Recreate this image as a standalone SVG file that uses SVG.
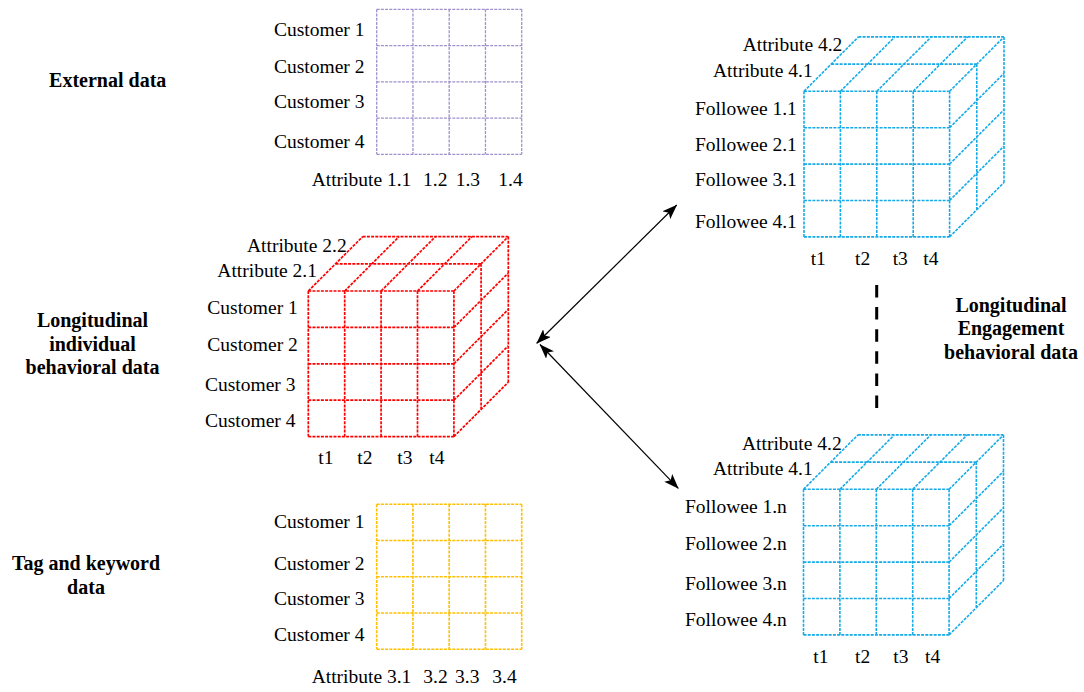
<svg xmlns="http://www.w3.org/2000/svg" xmlns:xlink="http://www.w3.org/1999/xlink" width="1084" height="692" viewBox="0 0 1084 692">
  <style>
    text { font-family: "Liberation Serif", "Times New Roman", serif; fill: #000; }
    .lbl { font-size: 19.5px; }
    .ttl { font-size: 20px; font-weight: bold; text-anchor: middle; }
    .end { text-anchor: end; }
    .grid { fill: none; stroke-dasharray: 3 1.2; stroke-linecap: butt; }
    .purple { stroke: #a091cc; stroke-width: 1.3; }
    .red { stroke: #ff0000; stroke-width: 1.7; }
    .yellow { stroke: #ffc000; stroke-width: 1.6; }
    .blue { stroke: #14abe8; stroke-width: 1.6; }
    .link { stroke: #000; stroke-width: 1.2; fill: none; }
  </style>
  <defs>
    <!-- 4x4 flat table, cell 36.25 -->
    <path id="table" d="M0,0H145M0,36.25H145M0,72.5H145M0,108.75H145M0,145H145
                        M0,0V145M36.25,0V145M72.5,0V145M108.75,0V145M145,0V145"/>
    <!-- 4x4x2 cube: front face, top face, right face -->
    <path id="cube" d="M0,0H145.6M0,36.4H145.6M0,72.8H145.6M0,109.2H145.6M0,145.6H145.6
                       M0,0V145.6M36.4,0V145.6M72.8,0V145.6M109.2,0V145.6M145.6,0V145.6
                       M0,0L54.4,-54.4M36.4,0L90.8,-54.4M72.8,0L127.2,-54.4M109.2,0L163.6,-54.4M145.6,0L200,-54.4
                       M27.2,-27.2H172.8M54.4,-54.4H200
                       M145.6,36.4L200,-18M145.6,72.8L200,18.4M145.6,109.2L200,54.8M145.6,145.6L200,91.2
                       M172.8,-27.2V118.4M200,-54.4V91.2"/>
    <marker id="head" viewBox="0 0 15 11" refX="14.5" refY="5.5" markerWidth="15" markerHeight="11" markerUnits="userSpaceOnUse" orient="auto-start-reverse">
      <path d="M0,0 L15,5.5 L0,11 L3.5,5.5 Z" fill="#000"/>
    </marker>
  </defs>

  <!-- section titles -->
  <g id="titles">
    <text class="ttl" x="107.7" y="87.3">External data</text>
    <text class="ttl" x="92.5" y="326.7">Longitudinal</text>
    <text class="ttl" x="92.5" y="350.5">individual</text>
    <text class="ttl" x="92.5" y="374.3">behavioral data</text>
    <text class="ttl" x="86" y="570">Tag and keyword</text>
    <text class="ttl" x="86" y="594.3">data</text>
    <text class="ttl" x="1011" y="311.7">Longitudinal</text>
    <text class="ttl" x="1011" y="335">Engagement</text>
    <text class="ttl" x="1011" y="359.3">behavioral data</text>
  </g>

  <!-- external data table -->
  <g id="external">
    <use xlink:href="#table" class="grid purple" transform="translate(376.7,9.3)"/>
    <text class="lbl" x="274" y="36">Customer 1</text>
    <text class="lbl" x="274" y="72.7">Customer 2</text>
    <text class="lbl" x="274" y="108.3">Customer 3</text>
    <text class="lbl" x="274" y="148.3">Customer 4</text>
    <text class="lbl" x="311.7" y="185.7">Attribute 1.1</text>
    <text class="lbl" x="423" y="185.7">1.2</text>
    <text class="lbl" x="455.7" y="185.7">1.3</text>
    <text class="lbl" x="498.3" y="185.7">1.4</text>
  </g>

  <!-- individual behavioral cube -->
  <g id="individual">
    <use xlink:href="#cube" class="grid red" transform="translate(308.3,291)"/>
    <text class="lbl end" x="346.7" y="251.7">Attribute 2.2</text>
    <text class="lbl end" x="317" y="276.7">Attribute 2.1</text>
    <text class="lbl" x="207.3" y="314">Customer 1</text>
    <text class="lbl" x="207.3" y="351">Customer 2</text>
    <text class="lbl" x="205" y="391">Customer 3</text>
    <text class="lbl" x="205" y="427.3">Customer 4</text>
    <text class="lbl" x="318.3" y="464">t1</text>
    <text class="lbl" x="357.3" y="464">t2</text>
    <text class="lbl" x="397.3" y="464">t3</text>
    <text class="lbl" x="429.3" y="464">t4</text>
  </g>

  <!-- tag and keyword table -->
  <g id="tags">
    <use xlink:href="#table" class="grid yellow" transform="translate(376.7,504.3)"/>
    <text class="lbl" x="274" y="528.3">Customer 1</text>
    <text class="lbl" x="274" y="570">Customer 2</text>
    <text class="lbl" x="274" y="605">Customer 3</text>
    <text class="lbl" x="274" y="640.7">Customer 4</text>
    <text class="lbl" x="311.7" y="683.3">Attribute 3.1</text>
    <text class="lbl" x="423.3" y="683.3">3.2</text>
    <text class="lbl" x="455" y="683.3">3.3</text>
    <text class="lbl" x="492.3" y="683.3">3.4</text>
  </g>

  <!-- engagement cube, first followees -->
  <g id="engagement-first">
    <use xlink:href="#cube" class="grid blue" transform="translate(804,91.3)"/>
    <text class="lbl end" x="842.3" y="50.7">Attribute 4.2</text>
    <text class="lbl end" x="812.7" y="76.7">Attribute 4.1</text>
    <text class="lbl" x="695" y="115">Followee 1.1</text>
    <text class="lbl" x="695" y="151">Followee 2.1</text>
    <text class="lbl" x="695" y="186">Followee 3.1</text>
    <text class="lbl" x="695" y="227.7">Followee 4.1</text>
    <text class="lbl" x="810.7" y="265">t1</text>
    <text class="lbl" x="855" y="265">t2</text>
    <text class="lbl" x="892.7" y="265">t3</text>
    <text class="lbl" x="923.3" y="265">t4</text>
  </g>

  <!-- engagement cube, n-th followees -->
  <g id="engagement-last">
    <use xlink:href="#cube" class="grid blue" transform="translate(803.5,489.3)"/>
    <text class="lbl end" x="841.7" y="450">Attribute 4.2</text>
    <text class="lbl end" x="812.7" y="475">Attribute 4.1</text>
    <text class="lbl" x="685" y="513.3">Followee 1.n</text>
    <text class="lbl" x="685" y="550">Followee 2.n</text>
    <text class="lbl" x="685" y="590">Followee 3.n</text>
    <text class="lbl" x="685" y="625.7">Followee 4.n</text>
    <text class="lbl" x="813.3" y="663.3">t1</text>
    <text class="lbl" x="855" y="663.3">t2</text>
    <text class="lbl" x="893.3" y="663.3">t3</text>
    <text class="lbl" x="925" y="663.3">t4</text>
  </g>

  <!-- connectors -->
  <g id="connectors">
    <line class="link" x1="676.7" y1="205" x2="536.7" y2="343.3" marker-start="url(#head)" marker-end="url(#head)"/>
    <line class="link" x1="540" y1="344.5" x2="678.3" y2="488.3" marker-start="url(#head)" marker-end="url(#head)"/>
    <line x1="876.7" y1="285" x2="876.7" y2="408" stroke="#000" stroke-width="3" stroke-dasharray="12.5 9.6"/>
  </g>
</svg>
